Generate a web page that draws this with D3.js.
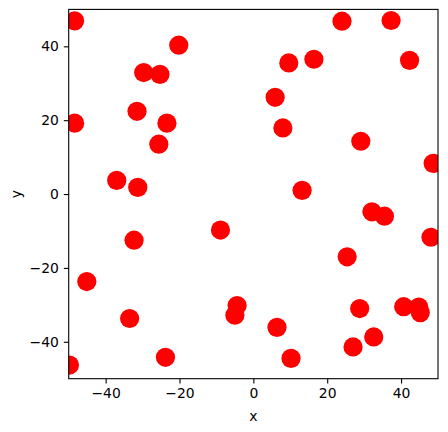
<!DOCTYPE html>
<html>
<head>
<meta charset="utf-8">
<script src="https://cdn.jsdelivr.net/npm/d3@7"></script>
<style>
  body { margin: 0; background: #fff; }
  svg { display: block; }
  .tick text { font-family: "DejaVu Sans", sans-serif; font-size: 13.9px; fill: #000; }
  .label { font-family: "DejaVu Sans", sans-serif; font-size: 13.9px; fill: #000; }
</style>
</head>
<body>
<script>
// Data: scatter points
var xs = [-48.4, -20.2, -29.7, -25.3, -31.5, -48.4, -23.4, -25.6, -37.0, -31.3,
          24.0, 37.3, 9.6, 16.4, 42.3, 5.9, 8.0, 29.1, 48.7, 13.2, 32.1, 35.5,
          -8.9, -32.3, -45.1, -33.5, -49.8, -23.8,
          48.1, 25.4, -4.4, -5.0, 28.8, 40.7, 44.8, 45.2, 6.4, 32.6, 27.0, 10.2];
var ys = [46.9, 40.3, 32.9, 32.4, 22.4, 19.2, 19.2, 13.5, 3.7, 1.8,
          46.8, 47.0, 35.5, 36.5, 36.2, 26.2, 17.9, 14.3, 8.3, 1.0, -4.8, -6.0,
          -9.75, -12.5, -23.7, -33.7, -46.3, -44.2,
          -11.7, -17.0, -30.2, -32.8, -31.0, -30.5, -30.6, -32.1, -36.1, -38.7, -41.4, -44.5];
var xTicks = [-40, -20, 0, 20, 40];
var yTicks = [-40, -20, 0, 20, 40];
var xDomain = [-50, 50];
var yDomain = [-50, 50];

var data = xs.map(function(x, i) { return {x: x, y: ys[i]}; });

// Chart config
var margin = {top: 9.4, left: 68.7},
    width = 369.3,
    height = 369.3;

var svg = d3.select("body").append("svg")
    .attr("width", 448)
    .attr("height", 432);

var xScale = d3.scaleLinear().domain(xDomain).range([0, width]);
var yScale = d3.scaleLinear().domain(yDomain).range([height, 0]);

var g = svg.append("g")
    .attr("transform", "translate(" + margin.left + "," + margin.top + ")");

g.append("clipPath").attr("id", "clip")
  .append("rect").attr("width", width).attr("height", height);

// points
g.append("g").attr("clip-path", "url(#clip)")
  .selectAll("circle").data(data).enter().append("circle")
    .attr("cx", function(d) { return xScale(d.x); })
    .attr("cy", function(d) { return yScale(d.y); })
    .attr("r", 9.6)
    .style("fill", "#ff0000");

// frame
g.append("rect")
    .attr("width", width).attr("height", height)
    .style("fill", "none").style("stroke", "#000").style("stroke-width", 1.1);

var fmt = function(d) { return String(d).replace("-", "\u2212"); };

var xAxis = d3.axisBottom(xScale).tickValues(xTicks).tickFormat(fmt).tickSize(4.9).tickPadding(4.9);
var yAxis = d3.axisLeft(yScale).tickValues(yTicks).tickFormat(fmt).tickSize(4.9).tickPadding(4.9);

var xAxisEl = g.append("g").attr("transform", "translate(0," + height + ")").call(xAxis);
var yAxisEl = g.append("g").call(yAxis);

[xAxisEl, yAxisEl].forEach(function(a) {
  a.select(".domain").remove();
  a.selectAll(".tick line").style("stroke", "#000").style("stroke-width", 1.1);
});

// axis labels
svg.append("text").attr("class", "label")
    .attr("x", margin.left + width / 2).attr("y", 421)
    .attr("text-anchor", "middle").text("x");

svg.append("text").attr("class", "label")
    .attr("transform", "translate(21," + (margin.top + height / 2) + ") rotate(-90)")
    .attr("text-anchor", "middle").text("y");
</script>
</body>
</html>
